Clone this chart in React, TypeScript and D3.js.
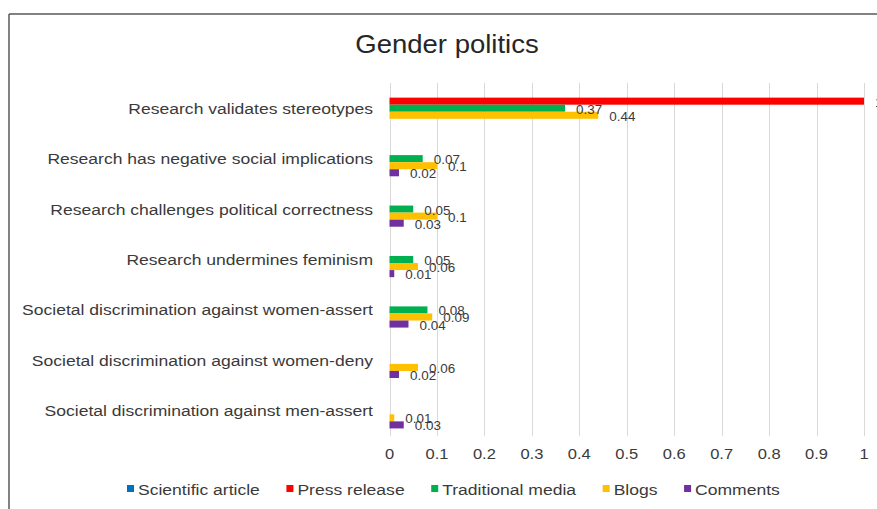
import React from "react";
import * as d3 from "d3";

const title = "Gender politics";
const categories = [
  "Research validates stereotypes",
  "Research has negative social implications",
  "Research challenges political correctness",
  "Research undermines feminism",
  "Societal discrimination against women-assert",
  "Societal discrimination against women-deny",
  "Societal discrimination against men-assert",
];
const seriesNames = ["Scientific article", "Press release", "Traditional media", "Blogs", "Comments"];
const seriesColors = ["#0070C0", "#FF0000", "#00B050", "#FFC000", "#7030A0"];
const scientificArticle: (number | null)[] = [null, null, null, null, null, null, null];
const pressRelease: (number | null)[] = [1, null, null, null, null, null, null];
const traditionalMedia: (number | null)[] = [0.37, 0.07, 0.05, 0.05, 0.08, null, null];
const blogs: (number | null)[] = [0.44, 0.1, 0.1, 0.06, 0.09, 0.06, 0.01];
const comments: (number | null)[] = [null, 0.02, 0.03, 0.01, 0.04, 0.02, 0.03];
const xTicks = [0, 0.1, 0.2, 0.3, 0.4, 0.5, 0.6, 0.7, 0.8, 0.9, 1];

const seriesValues = [scientificArticle, pressRelease, traditionalMedia, blogs, comments];

const W = 877;
const H = 509;
const FONT = "'Liberation Sans', Arial, sans-serif";

function SText(props: {
  x: number;
  y: number;
  size: number;
  sx: number;
  anchor?: string;
  fill?: string;
  children: React.ReactNode;
}) {
  const { x, y, size, sx, anchor = "start", fill = "#3a3a3a", children } = props;
  return (
    <text
      transform={`translate(${x},${y}) scale(${sx},1)`}
      textAnchor={anchor}
      fontSize={size}
      fontFamily={FONT}
      fill={fill}
    >
      {children}
    </text>
  );
}

function measure(text: string, size: number): number {
  const c = document.createElement("canvas");
  const ctx = c.getContext("2d");
  if (!ctx) return text.length * size * 0.5;
  ctx.font = `${size}px 'Liberation Sans', Arial, sans-serif`;
  return ctx.measureText(text).width;
}

export default function App() {
  const x = d3.scaleLinear().domain([0, 1]).range([389.5, 864]);
  const y = d3.scaleBand<string>().domain(categories).range([83, 436]);
  const groupH = y.bandwidth() * 0.7;
  const sub = d3.scaleBand<string>().domain(seriesNames).range([0, groupH]);

  const legendSx = 1.17;
  const legendSize = 15;
  const legendItems: { name: string; color: string; mx: number; tx: number }[] = [];
  let cursor = 127;
  seriesNames.forEach((name, i) => {
    const w = measure(name, legendSize) * legendSx;
    legendItems.push({ name, color: seriesColors[i], mx: cursor, tx: cursor + 11 });
    cursor += 11 + w + 26.5;
  });

  return (
    <svg
      width={W}
      height={H}
      style={{ position: "absolute", left: 0, top: 0, background: "#fff" }}
    >
      <rect x={0} y={0} width={W} height={H} fill="#fff" />
      {/* chart border */}
      <line x1={9} y1={14} x2={W} y2={14} stroke="#595959" strokeWidth={1.5} />
      <line x1={9} y1={14} x2={9} y2={H} stroke="#595959" strokeWidth={1.5} />

      <SText x={447} y={53} size={25} sx={1.1} anchor="middle" fill="#262626">
        {title}
      </SText>

      {/* gridlines */}
      {xTicks.map((t) => (
        <line
          key={"g" + t}
          x1={Math.round(x(t)) + 0.5}
          x2={Math.round(x(t)) + 0.5}
          y1={83}
          y2={436}
          stroke="#d9d9d9"
          strokeWidth={1}
        />
      ))}
      {xTicks.map((t) => (
        <SText key={"t" + t} x={x(t)} y={459} size={14} sx={1.18} anchor="middle">
          {String(t)}
        </SText>
      ))}

      {/* category labels */}
      {categories.map((c) => (
        <SText
          key={c}
          x={373}
          y={(y(c) as number) + y.bandwidth() / 2 + 5.5}
          size={15}
          sx={1.17}
          anchor="end"
        >
          {c}
        </SText>
      ))}

      {/* bars */}
      {seriesNames.map((s, si) =>
        categories.map((c, ci) => {
          const v = seriesValues[si][ci];
          if (v === null || v === undefined) return null;
          const y0 = (y(c) as number) + (y.bandwidth() - groupH) / 2 + (sub(s) as number);
          return (
            <rect
              key={s + c}
              x={x(0)}
              y={y0}
              width={x(v) - x(0)}
              height={sub.bandwidth()}
              fill={seriesColors[si]}
            />
          );
        })
      )}

      {/* data labels */}
      {seriesNames.map((s, si) =>
        categories.map((c, ci) => {
          const v = seriesValues[si][ci];
          if (v === null || v === undefined) return null;
          const y0 = (y(c) as number) + (y.bandwidth() - groupH) / 2 + (sub(s) as number);
          return (
            <SText
              key={"l" + s + c}
              x={x(v) + 11}
              y={y0 + sub.bandwidth() / 2 + 5.5}
              size={12}
              sx={1.12}
            >
              {String(v)}
            </SText>
          );
        })
      )}

      {/* legend */}
      {legendItems.map((it) => (
        <g key={it.name}>
          <rect x={it.mx} y={485} width={7} height={7} fill={it.color} />
          <SText x={it.tx} y={494.5} size={legendSize} sx={legendSx}>
            {it.name}
          </SText>
        </g>
      ))}
    </svg>
  );
}
